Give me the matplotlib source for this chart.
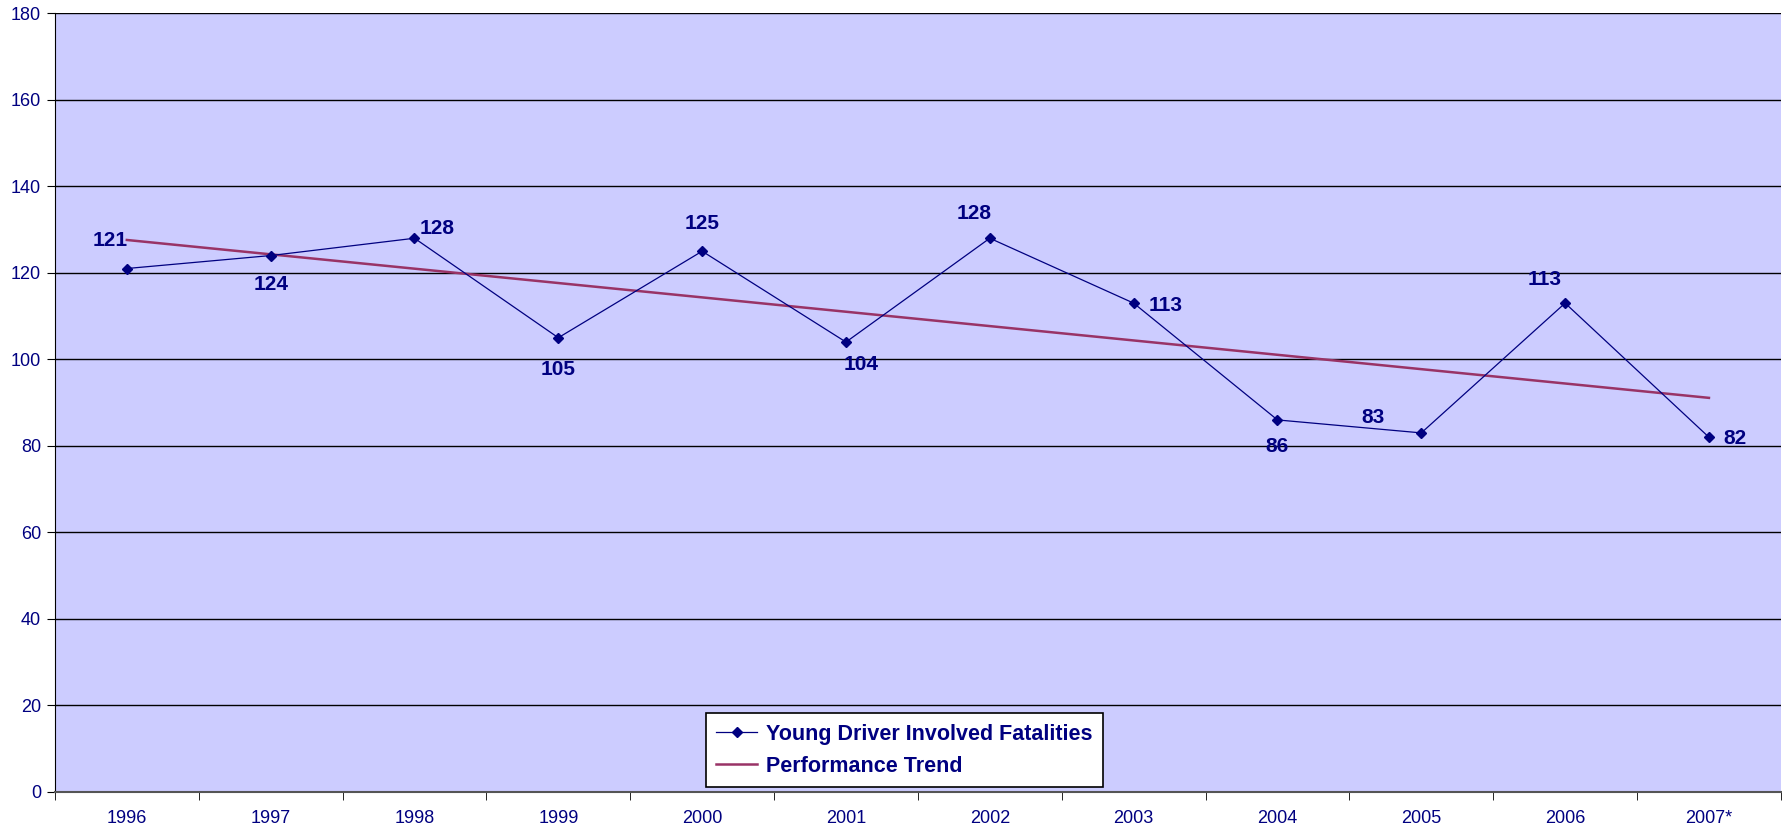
import matplotlib.pyplot as plt
from matplotlib.ticker import FixedLocator, NullFormatter

plt.rcParams["font.family"] = ["Liberation Sans", "DejaVu Sans"]

years = ["1996", "1997", "1998", "1999", "2000", "2001",
         "2002", "2003", "2004", "2005", "2006", "2007*"]
fatalities = [121, 124, 128, 105, 125, 104, 128, 113, 86, 83, 113, 82]
trend_ends = [127.6, 91.1]  # trend line at first and last year

navy = "#000080"
trend_col = "#993366"

# where each data label sits relative to its point (points)
label_offsets = [(-12, 20), (0, -21), (16, 7), (0, -23), (0, 20), (11, -16),
                 (-11, 18), (23, -2), (0, -19), (-35, 11), (-15, 17), (19, -1)]

fig = plt.figure(figsize=(17.83, 8.31), dpi=100)
ax = fig.add_axes([0.0308, 0.047, 0.968, 0.937])
ax.set_facecolor("#CCCCFF")

x = list(range(len(years)))
ax.plot(x, fatalities, color=navy, lw=0.9, marker="D", markersize=5.5,
        label="Young Driver Involved Fatalities", zorder=3)
ax.plot([x[0], x[-1]], trend_ends, color=trend_col, lw=1.8,
        label="Performance Trend", zorder=2)

for xi, v, (dx, dy) in zip(x, fatalities, label_offsets):
    ax.annotate(str(v), (xi, v), xytext=(dx, dy), textcoords="offset points",
                ha="center", va="center", fontsize=15, fontweight="bold",
                color=navy)

ax.set_xlim(-0.5, len(years) - 0.5)
ax.set_ylim(0, 180)
ax.set_yticks(range(0, 181, 20))
ax.yaxis.grid(True, color="black", lw=1)
ax.set_axisbelow(True)

ax.set_xticks(x)
ax.set_xticklabels(years)
ax.tick_params(axis="x", which="major", length=0, pad=13, labelsize=13,
               labelcolor=navy)
ax.xaxis.set_minor_locator(FixedLocator([i - 0.5 for i in range(len(years) + 1)]))
ax.xaxis.set_minor_formatter(NullFormatter())
ax.tick_params(axis="x", which="minor", length=6, color="black", direction="out")
ax.tick_params(axis="y", length=6, labelsize=13, labelcolor=navy, pad=4)

ax.spines["top"].set_visible(False)
ax.spines["right"].set_visible(False)
ax.spines["left"].set_color("black")
ax.spines["bottom"].set_color("#555555")
ax.spines["bottom"].set_linewidth(1.5)

leg = ax.legend(loc="lower left", bbox_to_anchor=(0.377, 0.006), borderaxespad=0,
                fancybox=False, framealpha=1, edgecolor="black", fontsize=15.5,
                handlelength=1.9, handletextpad=0.4, borderpad=0.5,
                labelspacing=0.5)
leg.get_frame().set_linewidth(1.2)
for t in leg.get_texts():
    t.set_color(navy)
    t.set_fontweight("bold")

fig.savefig("out.png", dpi=100)
